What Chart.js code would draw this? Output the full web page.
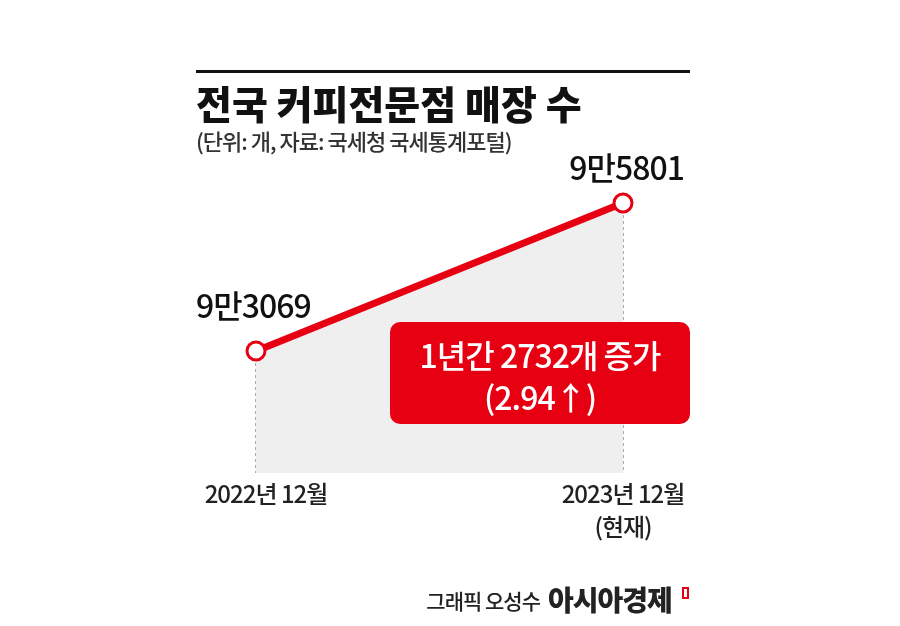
<!DOCTYPE html>
<html><head><meta charset="utf-8">
<script src="https://cdn.jsdelivr.net/npm/chart.js@4"></script>
<style>body{margin:0;background:#fff}#wrap{width:900px;height:626px;position:relative}</style>
</head><body><div id="wrap"><canvas id="chart"></canvas></div>
<script>
const categories = ['2022년 12월', '2023년 12월'];
const stores = [93069, 95801];
const valueLabels = ['9만3069', '9만5801'];
const FONT = '"Noto Sans CJK KR", "Noto Sans", sans-serif';
const RED = '#e60012';

const overlay = {
  id: 'overlay',
  beforeDatasetsDraw(chart) {
    const ctx = chart.ctx, x = chart.scales.x, y = chart.scales.y;
    ctx.save();
    ctx.strokeStyle = '#555';
    ctx.lineWidth = 1;
    ctx.setLineDash([3, 3]);
    stores.forEach((v, i) => {
      const px = x.getPixelForValue(i);
      ctx.beginPath();
      ctx.moveTo(px, y.getPixelForValue(v));
      ctx.lineTo(px, chart.chartArea.bottom);
      ctx.stroke();
    });
    ctx.restore();
  },
  afterDraw(chart) {
    const ctx = chart.ctx, x = chart.scales.x, y = chart.scales.y;
    ctx.save();
    ctx.fillStyle = '#111';
    ctx.fillRect(196, 70, 494, 3);
    ctx.textBaseline = 'middle';
    ctx.textAlign = 'left';
    ctx.font = '900 39px ' + FONT;
    ctx.letterSpacing = '0px';
    ctx.fillText('전국 커피전문점 매장 수', 196, 104);
    ctx.letterSpacing = '-1px';
    ctx.font = '500 22px ' + FONT;
    ctx.fillStyle = '#333';
    ctx.fillText('(단위: 개, 자료: 국세청 국세통계포털)', 196, 142);
    ctx.fillStyle = '#111';
    ctx.font = '500 32px ' + FONT;
    ctx.fillText(valueLabels[0], 196, 306);
    ctx.textAlign = 'right';
    ctx.fillText(valueLabels[1], 684, 168);
    ctx.font = '500 24px ' + FONT;
    ctx.textAlign = 'center';
    ctx.fillStyle = '#222';
    ctx.fillText(categories[0], x.getPixelForValue(0) + 10, 494);
    ctx.fillText(categories[1], x.getPixelForValue(1), 494);
    ctx.fillText('(현재)', x.getPixelForValue(1), 527);
    ctx.fillStyle = RED;
    ctx.beginPath();
    ctx.roundRect(390, 322, 300, 102, 10);
    ctx.fill();
    ctx.fillStyle = '#fff';
    ctx.font = '500 32px ' + FONT;
    ctx.fillText('1년간 2732개 증가', 540, 356);
    ctx.fillText('(2.94↑)', 540, 398);
    ctx.fillStyle = '#222';
    ctx.textAlign = 'right';
    ctx.font = '500 21px ' + FONT;
    ctx.fillText('그래픽 오성수', 540, 601);
    ctx.textAlign = 'left';
    ctx.font = '900 28px ' + FONT;
    ctx.fillText('아시아경제', 548, 600);
    ctx.strokeStyle = RED;
    ctx.lineWidth = 2;
    ctx.strokeRect(683, 588, 5, 10);
    ctx.restore();
  }
};

new Chart(document.getElementById('chart'), {
  type: 'line',
  data: {
    labels: categories,
    datasets: [{
      data: stores,
      borderColor: RED,
      borderWidth: 7,
      fill: 'start',
      backgroundColor: '#efefef',
      pointRadius: 9,
      pointBorderWidth: 3,
      pointBackgroundColor: '#fff',
      pointBorderColor: RED,
      tension: 0
    }]
  },
  options: {
    responsive: true,
    maintainAspectRatio: false,
    animation: false,
    layout: { padding: { left: 256, right: 277, top: 160, bottom: 153 } },
    plugins: { legend: { display: false }, tooltip: { enabled: false } },
    scales: {
      x: { display: false, offset: false },
      y: { display: false, min: 90817, max: 96595 }
    }
  },
  plugins: [overlay]
});
</script></body></html>
